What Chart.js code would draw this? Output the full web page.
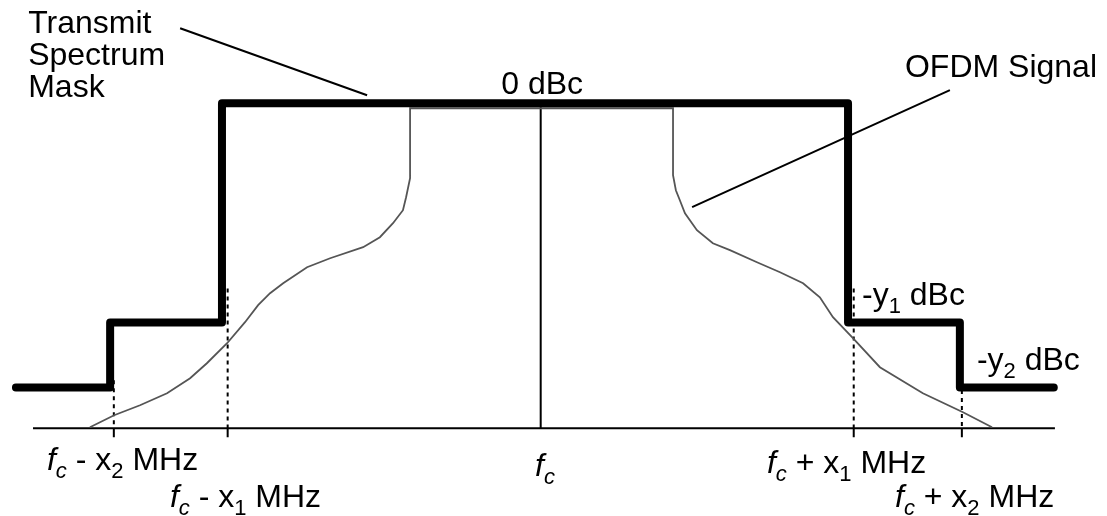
<!DOCTYPE html>
<html>
<head>
<meta charset="utf-8">
<script src="https://cdn.jsdelivr.net/npm/chart.js@4.4.1/dist/chart.umd.min.js"></script>
<style>
html, body { margin: 0; padding: 0; background: #fff; }
#wrap { position: relative; width: 1107px; height: 516px; }
</style>
</head>
<body>
<div id="wrap"><canvas id="chart"></canvas></div>
<script>
// ===== 数据：横轴以 fc 为 0（MHz），纵轴 dBc =====
const tickFreqs = [-15, -11, 11, 14.8];          // fc ± x2 / fc ± x1
const dottedTops = [-34.1, -22.8, -22.8, -35.3];  // 虚线上端
const floorLevel = -40;                           // 基线
const axisSpan = [-17.84, 18.07];

// 发射频谱模板
const maskFreq  = [-18.44, -15.13, -15.13, -11.2, -11.2, 10.8, 10.8, 14.73, 14.73, 18.03];
const maskLevel = [-35, -35, -27, -27, 0, 0, -27, -27, -35, -35];

// OFDM 信号
const signalFreq = [
  -15.84, -14.99, -14.08, -13.13, -12.32, -11.73, -11.02, -10.39, -9.93, -9.51,
  -9.05, -8.21, -7.40, -6.24, -5.65, -5.19, -4.84, -4.73, -4.59, -4.59,
  4.65, 4.65, 4.75, 4.89, 5.07, 5.49, 6.05, 6.65, 7.60, 8.41,
  9.22, 9.81, 10.27, 10.94, 11.92, 13.43, 14.84, 15.86
];
const signalLevel = [
  -39.88, -38.4, -37.17, -35.69, -33.85, -32.0, -29.54, -26.95, -24.86, -23.38,
  -22.15, -20.18, -19.08, -17.72, -16.49, -14.77, -13.17, -11.57, -9.23, -0.62,
  -0.62, -8.86, -10.71, -11.94, -13.54, -15.63, -17.23, -18.09, -19.57, -20.8,
  -22.15, -23.88, -26.34, -28.8, -32.49, -35.69, -38.03, -39.88
];

// 引线（标注用）
const leaderFreq  = [-12.67, -6.10, null, 14.38, 5.32];
const leaderLevel = [9.23, 0.98, null, 1.6, -12.8];

const FONT = '"Liberation Sans", Arial, Helvetica, sans-serif';

function pts(xs, ys) {
  return xs.map((x, i) => ({ x: x === null ? 0 : x, y: ys[i] }));
}

// 虚线 / 刻度：每段之间用 null 断开
function segs(xs, tops, bottom) {
  const out = [];
  xs.forEach((x, i) => {
    out.push({ x, y: tops[i] }, { x, y: bottom }, { x, y: null });
  });
  return out;
}

// ===== 文字：带下标 / 斜体 =====
function drawRich(ctx, parts, x, y) {
  let cx = x;
  parts.forEach(p => {
    ctx.font = (p.i ? 'italic ' : '') + (p.s ? '22px ' : '32px ') + FONT;
    ctx.fillText(p.t, cx, y + (p.s ? 8 : 0));
    cx += ctx.measureText(p.t).width;
  });
}

const labelPlugin = {
  id: 'labels',
  afterDatasetsDraw(chart) {
    const { ctx, scales: { x, y } } = chart;
    ctx.save();
    ctx.fillStyle = '#000';
    ctx.textBaseline = 'alphabetic';
    ctx.textAlign = 'left';

    // 左上说明
    ['Transmit', 'Spectrum', 'Mask'].forEach((t, i) => {
      drawRich(ctx, [{ t }], x.getPixelForValue(-18.01), y.getPixelForValue(8.62) + i * 32);
    });
    drawRich(ctx, [{ t: 'OFDM Signal' }], x.getPixelForValue(12.8), y.getPixelForValue(3.2));

    // 电平
    ctx.textAlign = 'center';
    ctx.font = '32px ' + FONT;
    ctx.fillText('0 dBc', x.getPixelForValue(0.05), y.getPixelForValue(1.1));
    ctx.textAlign = 'left';
    drawRich(ctx, [{ t: '-y' }, { t: '1', s: true }, { t: ' dBc' }], x.getPixelForValue(11.29), y.getPixelForValue(-24.86));
    drawRich(ctx, [{ t: '-y' }, { t: '2', s: true }, { t: ' dBc' }], x.getPixelForValue(15.33), y.getPixelForValue(-32.86));

    // 频率标注
    const fc = [{ t: 'f', i: true }, { t: 'c', i: true, s: true }];
    drawRich(ctx, fc.concat([{ t: ' - x' }, { t: '2', s: true }, { t: ' MHz' }]), x.getPixelForValue(-17.35), y.getPixelForValue(-45.17));
    drawRich(ctx, fc.concat([{ t: ' - x' }, { t: '1', s: true }, { t: ' MHz' }]), x.getPixelForValue(-13.03), y.getPixelForValue(-49.72));
    drawRich(ctx, fc, x.getPixelForValue(-0.2), y.getPixelForValue(-45.9));
    drawRich(ctx, fc.concat([{ t: ' + x' }, { t: '1', s: true }, { t: ' MHz' }]), x.getPixelForValue(7.95), y.getPixelForValue(-45.54));
    drawRich(ctx, fc.concat([{ t: ' + x' }, { t: '2', s: true }, { t: ' MHz' }]), x.getPixelForValue(12.45), y.getPixelForValue(-49.72));
    ctx.restore();
  }
};

new Chart(document.getElementById('chart'), {
  type: 'line',
  data: {
    datasets: [
      { // 模板（最上层）
        data: pts(maskFreq, maskLevel),
        borderColor: '#000', borderWidth: 8,
        borderCapStyle: 'round', borderJoinStyle: 'round'
      },
      { // 信号
        data: pts(signalFreq, signalLevel),
        borderColor: '#555', borderWidth: 1.8
      },
      { // 中心线
        data: [{ x: 0, y: 0 }, { x: 0, y: floorLevel }],
        borderColor: '#000', borderWidth: 2
      },
      { // 虚线
        data: segs(tickFreqs, dottedTops, floorLevel),
        borderColor: '#000', borderWidth: 2, borderDash: [4, 4], spanGaps: false
      },
      { // 刻度
        data: segs(tickFreqs, tickFreqs.map(() => floorLevel), floorLevel - 1.1),
        borderColor: '#000', borderWidth: 2, spanGaps: false
      },
      { // 基线
        data: [{ x: axisSpan[0], y: floorLevel }, { x: axisSpan[1], y: floorLevel }],
        borderColor: '#000', borderWidth: 2
      },
      { // 引线
        data: pts(leaderFreq, leaderLevel),
        borderColor: '#000', borderWidth: 2, spanGaps: false
      }
    ]
  },
  options: {
    responsive: true,
    maintainAspectRatio: false,
    animation: false,
    layout: { padding: 0 },
    elements: { point: { radius: 0, hoverRadius: 0 }, line: { tension: 0, fill: false } },
    plugins: { legend: { display: false }, tooltip: { enabled: false } },
    scales: {
      x: { type: 'linear', min: -19, max: 19.9, display: false },
      y: { type: 'linear', min: -50.8, max: 12.7, display: false }
    }
  },
  plugins: [labelPlugin]
});
</script>
</body>
</html>
